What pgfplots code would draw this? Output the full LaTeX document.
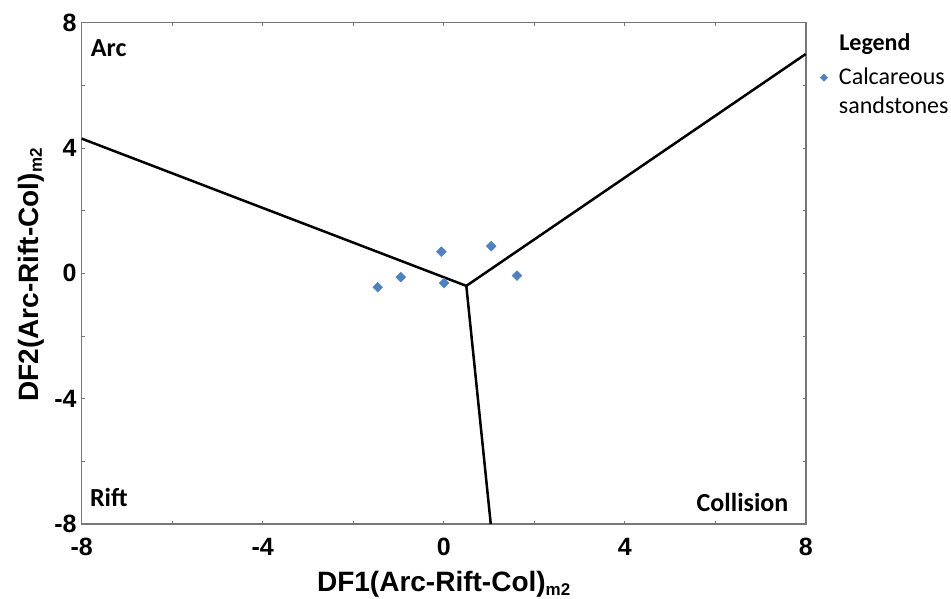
\documentclass[border=0pt]{standalone}
\usepackage{fontspec}
\setmainfont{Liberation Sans}
\newfontfamily\calibri{Carlito}
\usepackage{pgfplots}
\pgfplotsset{compat=1.18}
\definecolor{ptblue}{HTML}{4F81BD}
\definecolor{axgray}{HTML}{777777}
\pgfplotsset{mylegimg/.style={legend image code/.code={\draw[##1, mark size=2.6pt] plot coordinates {(0pt,0pt)};}}}
\newcommand{\msub}{\raisebox{-3.5pt}{\fontsize{17}{17}\selectfont m2}}
\begin{document}
\begin{tikzpicture}
\useasboundingbox (-81.7pt,-75pt) rectangle (869.3pt,524pt);
\begin{axis}[
  at={(0pt,0pt)}, anchor=south west,
  scale only axis, width=724pt, height=501.3pt,
  xmin=-8, xmax=8, ymin=-8, ymax=8,
  xtick={-8,-4,0,4,8}, ytick={-8,-4,0,4,8},
  minor xtick={-6,-2,2,6}, minor ytick={-6,-2,2,6},
  tick align=inside, major tick length=3pt, minor tick length=3pt,
  tick style={axgray, line width=0.8pt},
  axis line style={axgray, line width=1.6pt},
  /pgf/number format/assume math mode=true,
  ticklabel style={font=\fontsize{25}{25}\selectfont\bfseries, inner sep=0pt},
  xticklabel style={anchor=center, yshift=-23pt},
  yticklabel style={anchor=east, xshift=-5pt},
  clip=false,
  legend cell align=left,
  legend style={at={(axis description cs:1.0199,0.9156)}, anchor=north west,
    draw=none, fill=none, inner sep=0pt, column sep=9.3pt, row sep=4pt,
    nodes={inner sep=2pt, text height=17pt, text depth=4pt},
    cells={anchor=west},
    font=\calibri\fontsize{24}{28}\selectfont},
]
\addplot[only marks, mark=square*, mark size=3.5pt,
  mark options={rotate=45, fill=ptblue, draw=ptblue}, mylegimg]
  coordinates {(-1.46,-0.44) (-0.95,-0.12) (-0.05,0.69) (0.01,-0.31) (1.05,0.87) (1.62,-0.07)};
\addlegendentry{Calcareous}
\addlegendimage{empty legend}
\addlegendentry{sandstones}
\addplot[black, line width=2.5pt, forget plot] coordinates {(-8,4.30) (0.50,-0.40)};
\addplot[black, line width=2.5pt, forget plot] coordinates {(0.50,-0.40) (8,7.00)};
\addplot[black, line width=2.5pt, forget plot] coordinates {(0.50,-0.40) (1.04,-8)};
\end{axis}
\node[anchor=base west, inner sep=0pt, font=\calibri\bfseries\fontsize{26}{26}\selectfont] at (9pt,467.3pt) {Arc};
\node[anchor=base west, inner sep=0pt, font=\calibri\bfseries\fontsize{26}{26}\selectfont] at (8.2pt,17.3pt) {Rift};
\node[anchor=base east, inner sep=0pt, font=\calibri\bfseries\fontsize{26}{26}\selectfont] at (706.8pt,12.3pt) {Collision};
\node[anchor=base west, inner sep=0pt, font=\calibri\bfseries\fontsize{24}{24}\selectfont] at (757.4pt,473.3pt) {Legend};
\node[anchor=base, inner sep=0pt, font=\fontsize{28}{28}\selectfont\bfseries] at (362pt,-67.7pt) {DF1(Arc-Rift-Col)\msub};
\node[anchor=base, rotate=90, inner sep=0pt, font=\fontsize{28}{28}\selectfont\bfseries] at (-43.4pt,249pt) {DF2(Arc-Rift-Col)\msub};
\end{tikzpicture}
\end{document}
